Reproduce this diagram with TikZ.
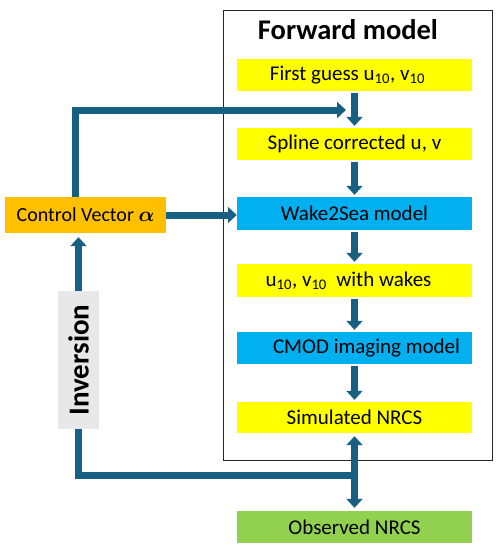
\documentclass[tikz,border=0pt]{standalone}
\usepackage{fontspec}
\setmainfont{Carlito}
\usepackage{amsmath,bm}
\usetikzlibrary{arrows.meta}
\definecolor{arr}{RGB}{24,96,130}
\definecolor{yel}{RGB}{255,255,0}
\definecolor{blu}{RGB}{0,176,240}
\definecolor{org}{RGB}{255,192,0}
\definecolor{grn}{RGB}{146,208,80}
\definecolor{gry}{RGB}{232,232,232}
\tikzset{
  box/.style={minimum width=235pt, inner sep=0pt, font=\fontsize{21}{24}\selectfont},
  ybox/.style={box, fill=yel, minimum height=32pt},
  bbox/.style={box, fill=blu, minimum height=33pt},
  flow/.style={draw=arr, line width=7pt},
  tip/.style={-{Triangle[width=16pt,length=9pt]}},
  ttip/.style={{Triangle[width=16pt,length=9pt]}-{Triangle[width=16pt,length=9pt]}},
}
\begin{document}
\begin{tikzpicture}[x=1pt,y=-1pt]
\useasboundingbox (0,0) rectangle (500,549);
\node[draw=black!85, line width=0.8pt, minimum width=269pt, minimum height=450pt, inner sep=0pt] (fm) at (357.5,235) {};
\node[font=\fontsize{28.5}{32}\selectfont\bfseries] (title) at (348,30) {Forward model};
\node[ybox] (b1) at (354.5,75) {\hspace{-14pt}First guess u\textsubscript{10}, v\textsubscript{10}};
\node[ybox] (b2) at (354.5,144) {Spline corrected u, v};
\node[bbox] (b3) at (354.5,213.5) {Wake2Sea model};
\node[ybox, minimum height=33pt] (b4) at (354.5,280.5) {\hspace{-12pt}u\textsubscript{10}, v\textsubscript{10}\ \ with wakes};
\node[bbox, minimum height=32pt] (b5) at (354.5,348) {\hspace{24pt}CMOD imaging model};
\node[ybox, minimum height=31pt] (b6) at (354.5,417.5) {Simulated NRCS};
\node[box, fill=grn, minimum height=32pt] (obs) at (354.5,527) {Observed NRCS};
\node[fill=org, minimum width=161pt, minimum height=36pt, inner sep=0pt, font=\fontsize{20}{23}\selectfont] (cv) at (85.5,215) {Control Vector $\bm{\alpha}$};
\node[fill=gry, minimum width=41pt, minimum height=138pt, inner sep=0pt] (inv) at (78.5,360) {};
\node[rotate=90, font=\fontsize{29}{32}\selectfont\bfseries] (invt) at (inv.center) {Inversion};
\coordinate (up) at (75,110);
\coordinate (hin) at (346,110);
\coordinate (lowL) at (78.5,475);
\coordinate (lowR) at (354.5,475);
% flow arrows
\draw[flow,tip,shorten <=2pt,shorten >=2pt] (b1.south) -- (b2.north);
\draw[flow,tip,shorten <=2pt,shorten >=2pt] (b2.south) -- (b3.north);
\draw[flow,tip,shorten <=2pt,shorten >=2pt] (b3.south) -- (b4.north);
\draw[flow,tip,shorten <=2pt,shorten >=2pt] (b4.south) -- (b5.north);
\draw[flow,tip,shorten <=2pt,shorten >=2pt] (b5.south) -- (b6.north);
\draw[flow,ttip,shorten <=3pt,shorten >=3pt] (b6.south) -- (obs.north);
\draw[flow,tip] (cv.north -| up) -- (up) -- (hin);
\draw[flow,tip] (cv.east) -- (cv.east -| b3.west);
\draw[flow,tip,shorten >=4pt] (inv.north) -- (cv.south -| inv.north);
\draw[flow,line join=miter] (inv.south) -- (lowL) -- (lowR);
\end{tikzpicture}
\end{document}
